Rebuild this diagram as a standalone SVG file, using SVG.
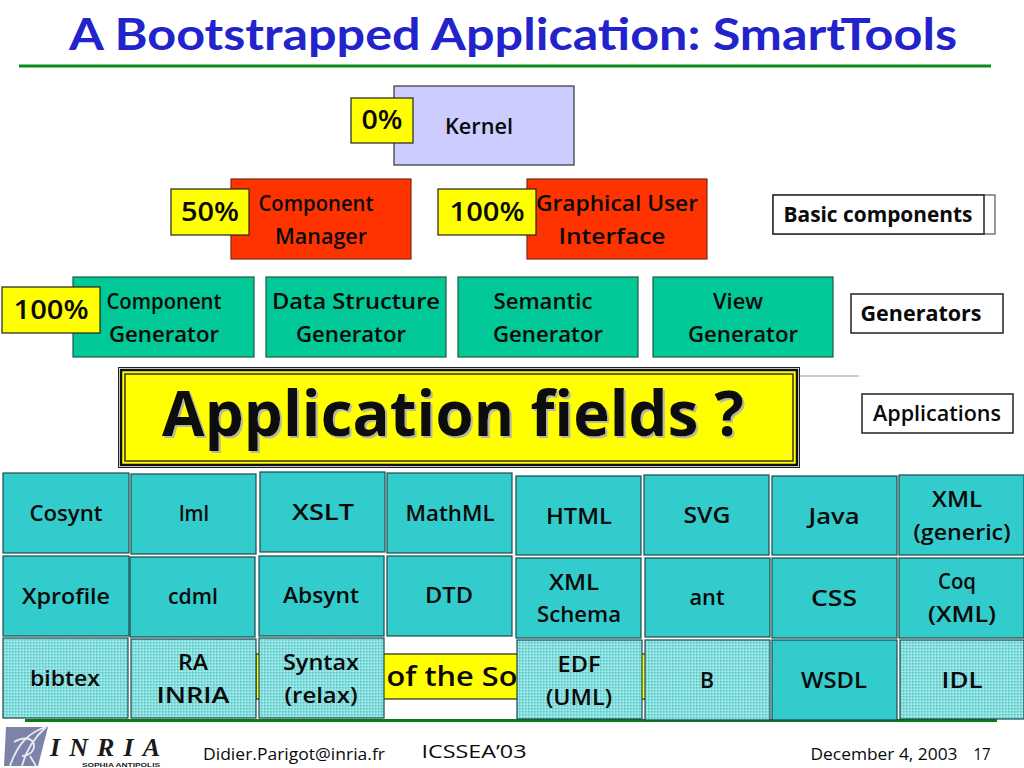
<svg xmlns="http://www.w3.org/2000/svg" width="1024" height="768" viewBox="0 0 1024 768">
<style>
text{font-family:"Open Sans","DejaVu Sans",sans-serif;text-anchor:middle;fill:#0a0a0a}
.n{font-size:22px;font-weight:600}
.p{font-size:27px;font-weight:600}
.b{stroke:#1c4a4c;stroke-width:1.2}
.t{fill:#33cccc}
.d{fill:url(#dots)}
.g{fill:#00c896;stroke:#1a5a48;stroke-width:1.2}
.r{fill:#ff3300;stroke:#7a2a10;stroke-width:1.2}
.y{fill:#ffff00;stroke:#222;stroke-width:1.2}
.w{fill:#fff;stroke:#222;stroke-width:1.5}
</style>
<defs>
<pattern id="dots" width="3" height="3" patternUnits="userSpaceOnUse">
<rect width="3" height="3" fill="#88dede"/>
<rect width="1.5" height="1.5" fill="#55caca"/>
<rect x="1.5" y="1.5" width="1.5" height="1.5" fill="#b0eaea"/>
</pattern>
<filter id="soft" x="-5%" y="-10%" width="110%" height="125%">
<feDropShadow dx="2" dy="2" stdDeviation="0.6" flood-color="#b8b8a0"/>
</filter>
</defs>
<rect width="1024" height="768" fill="#fff"/>
<text id="title" x="513" y="50" textLength="888" lengthAdjust="spacingAndGlyphs" style="font-size:44px;font-weight:700;fill:#2323cc;font-family:'Lato','Liberation Sans',sans-serif">A Bootstrapped Application: SmartTools</text>
<g id="connectors">
<line x1="19" y1="66" x2="991" y2="66" stroke="#0a8a1a" stroke-width="3"/>
<line x1="800" y1="376" x2="859" y2="376" stroke="#999" stroke-width="1"/>
</g>
<g id="kernel"><rect x="394" y="86" width="180" height="79" fill="#ccccff" stroke="#333" stroke-width="1.2"/><text class="n" x="479" y="134" textLength="68" lengthAdjust="spacingAndGlyphs">Kernel</text></g>
<g id="pct0"><rect class="y" x="351" y="98" width="62" height="45"/><text class="p" x="382" y="129" textLength="41" lengthAdjust="spacingAndGlyphs">0%</text></g>
<g id="component-manager"><rect class="r" x="231" y="179" width="180" height="80"/><text class="n" x="316" y="211" textLength="115" lengthAdjust="spacingAndGlyphs">Component</text><text class="n" x="321" y="244" textLength="92" lengthAdjust="spacingAndGlyphs">Manager</text></g>
<g id="pct50"><rect class="y" x="171" y="189" width="78" height="46"/><text class="p" x="210" y="221" textLength="58" lengthAdjust="spacingAndGlyphs">50%</text></g>
<g id="gui"><rect class="r" x="527" y="179" width="180" height="80"/><text class="n" x="617" y="211" textLength="162" lengthAdjust="spacingAndGlyphs">Graphical User</text><text class="n" x="612" y="244" textLength="107" lengthAdjust="spacingAndGlyphs">Interface</text></g>
<g id="pct100b"><rect class="y" x="438" y="189" width="98" height="46"/><text class="p" x="487" y="221" textLength="75" lengthAdjust="spacingAndGlyphs">100%</text></g>
<g id="basic"><rect class="w" x="773" y="195" width="222" height="39" style="stroke:#555;stroke-width:1.2"/><rect class="w" x="773" y="195" width="211" height="39"/><text class="n" x="878" y="222" textLength="189" lengthAdjust="spacingAndGlyphs" style="font-weight:700">Basic components</text></g>
<g id="generators"><rect class="w" x="851" y="294" width="152" height="39"/><text class="n" x="921" y="321" textLength="121" lengthAdjust="spacingAndGlyphs" style="font-weight:700">Generators</text></g>
<g id="applications"><rect class="w" x="862" y="394" width="151" height="39"/><text class="n" x="937" y="421" textLength="128" lengthAdjust="spacingAndGlyphs">Applications</text></g>
<g id="gen1"><rect class="g" x="73" y="277" width="181" height="80"/><text class="n" x="164" y="309" textLength="115" lengthAdjust="spacingAndGlyphs">Component</text><text class="n" x="164" y="342" textLength="110" lengthAdjust="spacingAndGlyphs">Generator</text></g>
<g id="gen2"><rect class="g" x="266" y="277" width="180" height="80"/><text class="n" x="356" y="309" textLength="168" lengthAdjust="spacingAndGlyphs">Data Structure</text><text class="n" x="351" y="342" textLength="110" lengthAdjust="spacingAndGlyphs">Generator</text></g>
<g id="gen3"><rect class="g" x="458" y="277" width="180" height="80"/><text class="n" x="543" y="309" textLength="99" lengthAdjust="spacingAndGlyphs">Semantic</text><text class="n" x="548" y="342" textLength="110" lengthAdjust="spacingAndGlyphs">Generator</text></g>
<g id="gen4"><rect class="g" x="653" y="277" width="180" height="80"/><text class="n" x="738" y="309" textLength="50" lengthAdjust="spacingAndGlyphs">View</text><text class="n" x="743" y="342" textLength="110" lengthAdjust="spacingAndGlyphs">Generator</text></g>
<g id="pct100a"><rect class="y" x="2" y="287" width="98" height="46"/><text class="p" x="51" y="319" textLength="75" lengthAdjust="spacingAndGlyphs">100%</text></g>
<g id="app-fields">
<rect x="118.500" y="367.500" width="681" height="100" fill="#fff" stroke="#222" stroke-width="1"/>
<rect x="121" y="370" width="676" height="95" fill="#ffff00" stroke="#111" stroke-width="2.500"/>
<rect x="125" y="374" width="668" height="87" fill="#ffff00" stroke="#333" stroke-width="1.500"/>
<text x="453" y="436" textLength="582" lengthAdjust="spacingAndGlyphs" filter="url(#soft)" style="font-size:62px;font-weight:700">Application fields ?</text>
</g>
<g id="cosynt"><rect class="b t" x="3" y="473" width="126" height="80"/><text class="n" x="66" y="521" textLength="73" lengthAdjust="spacingAndGlyphs">Cosynt</text></g>
<g id="lml"><rect class="b t" x="131" y="474" width="125" height="80"/><text class="n" x="194" y="521" textLength="30" lengthAdjust="spacingAndGlyphs">lml</text></g>
<g id="xslt"><rect class="b t" x="260" y="472" width="125" height="80"/><text class="n" x="323" y="520" textLength="62" lengthAdjust="spacingAndGlyphs">XSLT</text></g>
<g id="mathml"><rect class="b t" x="387" y="473" width="125" height="80"/><text class="n" x="450" y="521" textLength="89" lengthAdjust="spacingAndGlyphs">MathML</text></g>
<g id="html"><rect class="b t" x="516" y="476" width="125" height="79"/><text class="n" x="579" y="524" textLength="66" lengthAdjust="spacingAndGlyphs">HTML</text></g>
<g id="svg"><rect class="b t" x="644" y="475" width="125" height="80"/><text class="n" x="707" y="523" textLength="47" lengthAdjust="spacingAndGlyphs">SVG</text></g>
<g id="java"><rect class="b t" x="772" y="476" width="125" height="79"/><text class="n" x="834" y="524" textLength="51" lengthAdjust="spacingAndGlyphs">Java</text></g>
<g id="xml-generic"><rect class="b t" x="899" y="475" width="125" height="80"/><text class="n" x="957" y="507" textLength="50" lengthAdjust="spacingAndGlyphs">XML</text><text class="n" x="962" y="540" textLength="97" lengthAdjust="spacingAndGlyphs">(generic)</text></g>
<g id="xprofile"><rect class="b t" x="3" y="556" width="126" height="80"/><text class="n" x="66" y="604" textLength="88" lengthAdjust="spacingAndGlyphs">Xprofile</text></g>
<g id="cdml"><rect class="b t" x="130" y="557" width="125" height="80"/><text class="n" x="193" y="604" textLength="50" lengthAdjust="spacingAndGlyphs">cdml</text></g>
<g id="absynt"><rect class="b t" x="259" y="556" width="125" height="80"/><text class="n" x="321" y="603" textLength="76" lengthAdjust="spacingAndGlyphs">Absynt</text></g>
<g id="dtd"><rect class="b t" x="387" y="556" width="125" height="80"/><text class="n" x="449" y="603" textLength="48" lengthAdjust="spacingAndGlyphs">DTD</text></g>
<g id="xml-schema"><rect class="b t" x="516" y="558" width="125" height="80"/><text class="n" x="574" y="590" textLength="50" lengthAdjust="spacingAndGlyphs">XML</text><text class="n" x="579" y="622" textLength="84" lengthAdjust="spacingAndGlyphs">Schema</text></g>
<g id="ant"><rect class="b t" x="645" y="558" width="125" height="79"/><text class="n" x="707" y="605" textLength="35" lengthAdjust="spacingAndGlyphs">ant</text></g>
<g id="css"><rect class="b t" x="772" y="558" width="125" height="80"/><text class="n" x="834" y="606" textLength="46" lengthAdjust="spacingAndGlyphs">CSS</text></g>
<g id="coq"><rect class="b t" x="899" y="558" width="125" height="80"/><text class="n" x="957" y="589" textLength="38" lengthAdjust="spacingAndGlyphs">Coq</text><text class="n" x="962" y="622" textLength="68" lengthAdjust="spacingAndGlyphs">(XML)</text></g>
<g id="banner"><rect class="y" x="256" y="654" width="392" height="45"/><text x="452" y="686" textLength="131" lengthAdjust="spacingAndGlyphs" style="font-size:27px;font-weight:600">of the So</text></g>
<line id="rule-bottom" x1="25" y1="720.500" x2="997" y2="720.500" stroke="#0a7a1a" stroke-width="3"/>
<g id="bibtex"><rect class="b d" x="3" y="638" width="125" height="80"/><text class="n" x="65" y="686" textLength="70" lengthAdjust="spacingAndGlyphs">bibtex</text></g>
<g id="ra"><rect class="b d" x="131" y="639" width="125" height="79"/><text class="n" x="193" y="670" textLength="30" lengthAdjust="spacingAndGlyphs">RA</text><text class="n" x="193" y="703" textLength="73" lengthAdjust="spacingAndGlyphs">INRIA</text></g>
<g id="syntax"><rect class="b d" x="259" y="638" width="125" height="80"/><text class="n" x="321" y="670" textLength="76" lengthAdjust="spacingAndGlyphs">Syntax</text><text class="n" x="321" y="703" textLength="73" lengthAdjust="spacingAndGlyphs">(relax)</text></g>
<g id="edf"><rect class="b d" x="517" y="640" width="125" height="79"/><text class="n" x="579" y="672" textLength="43" lengthAdjust="spacingAndGlyphs">EDF</text><text class="n" x="579" y="705" textLength="66" lengthAdjust="spacingAndGlyphs">(UML)</text></g>
<g id="b"><rect class="b d" x="645" y="640" width="125" height="80"/><text class="n" x="707" y="688" textLength="14" lengthAdjust="spacingAndGlyphs">B</text></g>
<g id="wsdl"><rect class="b t" x="772" y="640" width="125" height="80"/><text class="n" x="834" y="688" textLength="66" lengthAdjust="spacingAndGlyphs">WSDL</text></g>
<g id="idl"><rect class="b d" x="900" y="640" width="124" height="79"/><text class="n" x="962" y="688" textLength="41" lengthAdjust="spacingAndGlyphs">IDL</text></g>
<g id="logo">
<path d="M6 727H48L38 766H4Z" fill="#7d83a8"/>
<path d="M48 726C30 732 18 742 10 766M46 727C34 738 26 750 22 766M14 742C24 736 34 738 34 746C34 752 28 756 22 756M30 756L36 766" fill="none" stroke="#e8e8f0" stroke-width="1.800"/>
<text x="105" y="756" textLength="110" lengthAdjust="spacing" style="font-family:'Liberation Serif',serif;font-size:26px;font-style:italic;font-weight:700;fill:#1a1a1a">INRIA</text>
<text x="121" y="767" textLength="78" lengthAdjust="spacingAndGlyphs" style="font-family:'Liberation Sans',sans-serif;font-size:5.500px;font-weight:700;fill:#222">SOPHIA ANTIPOLIS</text>
</g>
<g id="footer">
<text x="294" y="760" textLength="182" lengthAdjust="spacingAndGlyphs" style="font-size:17px">Didier.Parigot@inria.fr</text>
<text x="474" y="758" textLength="105" lengthAdjust="spacingAndGlyphs" style="font-size:18px">ICSSEA’03</text>
<text x="884" y="760" textLength="147" lengthAdjust="spacingAndGlyphs" style="font-size:17px">December 4, 2003</text>
<text x="982" y="760" textLength="17" lengthAdjust="spacingAndGlyphs" style="font-size:17px">17</text>
</g>
</svg>
